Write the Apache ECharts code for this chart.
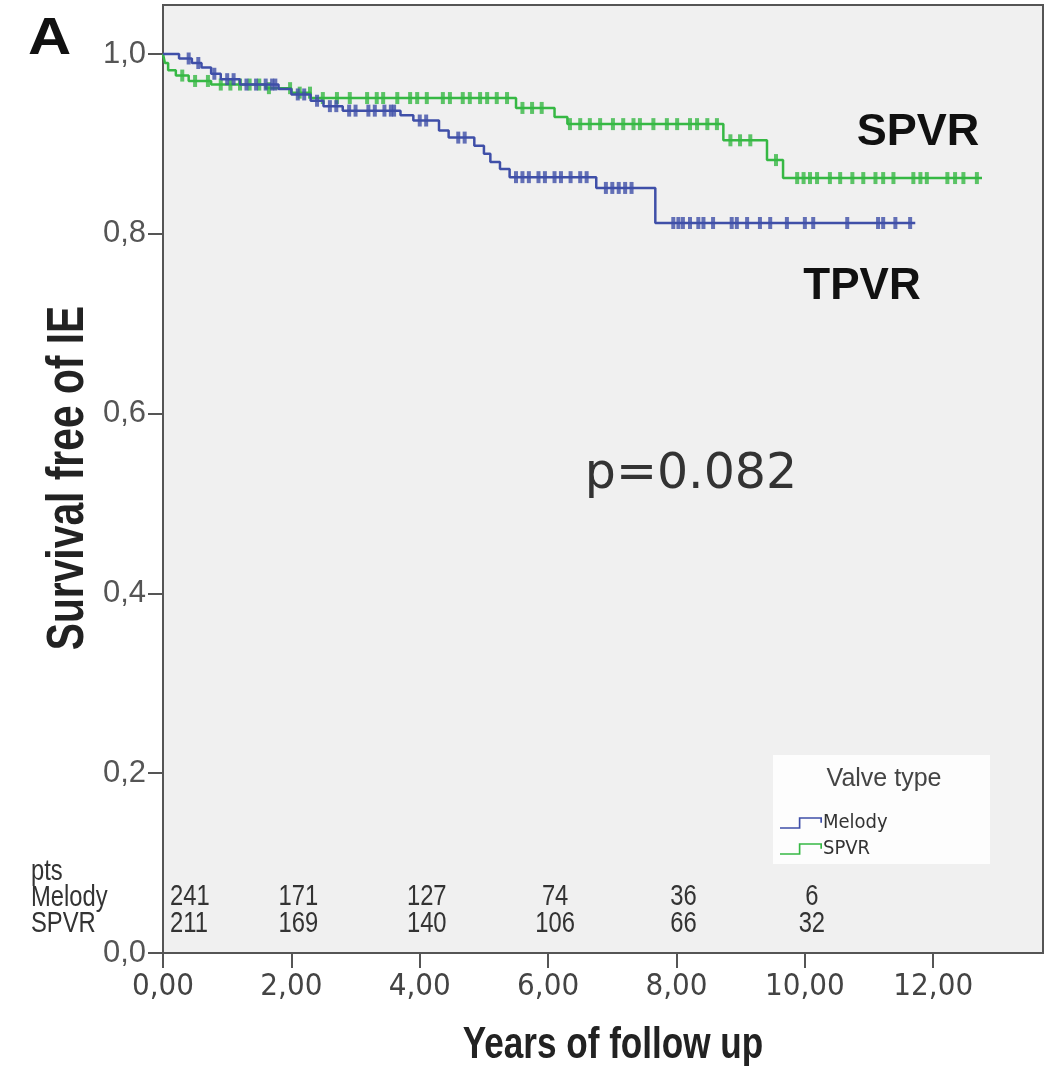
<!DOCTYPE html>
<html>
<head>
<meta charset="utf-8">
<script src="https://cdn.jsdelivr.net/npm/echarts@6/dist/echarts.min.js"></script>
<style>
html,body{margin:0;padding:0;background:#fff;}
#chart{width:1053px;height:1066px;}
</style>
</head>
<body>
<div id="chart"></div>
<script>
// ---- data ----
const melodyTimes = [0, 0.25, 0.45, 0.6, 0.75, 0.9, 1.2, 1.8, 2.0, 2.3, 2.5, 2.8, 3.7, 3.9, 4.3, 4.45, 4.85, 5.0, 5.1, 5.25, 5.4, 6.75, 7.67, 11.72];
const melodySurv  = [1.0, 0.995, 0.99, 0.985, 0.978, 0.972, 0.966, 0.961, 0.955, 0.948, 0.942, 0.937, 0.932, 0.926, 0.915, 0.907, 0.898, 0.889, 0.88, 0.872, 0.863, 0.851, 0.812, 0.812];
const spvrTimes = [0, 0.03, 0.08, 0.2, 0.4, 0.75, 1.6, 2.0, 2.3, 5.5, 6.1, 6.3, 8.73, 9.41, 9.66, 12.76];
const spvrSurv  = [1.0, 0.99, 0.982, 0.976, 0.97, 0.966, 0.962, 0.957, 0.951, 0.94, 0.93, 0.922, 0.904, 0.882, 0.862, 0.862];
const melodyCensor = [0.4, 0.55, 0.8, 1.0, 1.1, 1.3, 1.45, 1.6, 1.7, 1.75, 2.1, 2.2, 2.4, 2.6, 2.7, 2.9, 3.0, 3.2, 3.3, 3.45, 3.55, 3.6, 4.0, 4.1, 4.6, 4.7, 5.5, 5.6, 5.7, 5.85, 5.95, 6.1, 6.2, 6.35, 6.5, 6.6, 6.9, 7.0, 7.1, 7.2, 7.3, 7.95, 8.03, 8.1, 8.21, 8.34, 8.42, 8.57, 8.86, 8.94, 9.1, 9.3, 9.46, 9.72, 10.0, 10.13, 10.66, 11.14, 11.22, 11.41, 11.64];
const spvrCensor = [0.3, 0.5, 0.7, 0.9, 1.05, 1.2, 1.35, 1.5, 1.65, 1.98, 2.13, 2.29, 2.49, 2.71, 2.91, 3.18, 3.33, 3.43, 3.65, 3.85, 3.96, 4.11, 4.36, 4.47, 4.67, 4.78, 4.94, 5.05, 5.2, 5.36, 5.6, 5.75, 5.9, 6.34, 6.5, 6.65, 6.81, 7.01, 7.17, 7.33, 7.43, 7.64, 7.85, 8.01, 8.21, 8.32, 8.48, 8.63, 8.84, 8.99, 9.15, 9.55, 9.88, 9.98, 10.08, 10.19, 10.39, 10.55, 10.74, 10.91, 11.1, 11.22, 11.38, 11.69, 11.8, 11.9, 12.22, 12.34, 12.47, 12.68];
const riskTimes  = [0, 2, 4, 6, 8, 10];
const melodyRisk = [241, 171, 127, 74, 36, 6];
const spvrRisk   = [211, 169, 140, 106, 66, 32];
const xTicks = [0, 2, 4, 6, 8, 10, 12];
const yTicks = [0, 0.2, 0.4, 0.6, 0.8, 1.0];
const seriesNames = ['Melody', 'SPVR'];

// ---- layout / style ----
const X_MAX = 13.71, Y_MAX = 1.0545;
const ROW_MELODY_Y = 0.0623, ROW_SPVR_Y = 0.0323;
const BLUE = '#3f4fa8', GREEN = '#36b844';
const COND = "'DejaVu Sans Condensed','DejaVu Sans',sans-serif";
const SANS = "'Liberation Sans',Arial,sans-serif";
const NARROW_SCALE = 0.82;

function survAt(times, surv, t) {
  let v = surv[0];
  for (let i = 0; i < times.length; i++) { if (times[i] <= t) v = surv[i]; }
  return v;
}
const lineData = (times, surv) => times.map((t, i) => [t, surv[i]]);
const censorData = (c, times, surv) => c.map(t => [t, survAt(times, surv, t)]);

const chart = echarts.init(document.getElementById('chart'), null, { renderer: 'canvas' });
const iconPath = 'path://M0,10 L17,10 L17,1 L38,1 L38,6 L36.5,6 L36.5,2.5 L18.5,2.5 L18.5,11.5 L0,11.5 Z';

chart.setOption({
  animation: false,
  grid: { left: 163, right: 10, top: 5, bottom: 113, containLabel: false, outerBoundsMode: 'none',
          show: true, backgroundColor: '#f0f0f0', borderColor: '#555', borderWidth: 2 },
  xAxis: {
    type: 'value', min: 0, max: X_MAX,
    axisLine: { show: true, lineStyle: { color: '#555', width: 2 } },
    axisTick: { show: true, length: 15, customValues: xTicks, lineStyle: { color: '#555', width: 2 } },
    axisLabel: { customValues: xTicks, formatter: v => v.toFixed(2).replace('.', ','), fontFamily: COND, fontSize: 31, color: '#444', margin: 18 },
    splitLine: { show: false }
  },
  yAxis: {
    type: 'value', min: 0, max: Y_MAX,
    axisLine: { show: true, lineStyle: { color: '#555', width: 2 } },
    axisTick: { show: true, length: 15, customValues: yTicks, lineStyle: { color: '#555', width: 2 } },
    axisLabel: { customValues: yTicks, formatter: v => v.toFixed(1).replace('.', ','), fontFamily: SANS, fontSize: 31, color: '#555', margin: 17 },
    splitLine: { show: false }
  },
  legend: {
    data: seriesNames, orient: 'vertical', left: 780, top: 811, padding: 0, itemGap: 2,
    itemWidth: 42, itemHeight: 14, icon: iconPath, z: 6,
    textStyle: { fontFamily: COND, fontSize: 20, lineHeight: 24, color: '#333', padding: [0, 0, 0, -4] }
  },
  series: [
    { name: 'SPVR', type: 'line', step: 'end', showSymbol: false, symbol: 'none', data: lineData(spvrTimes, spvrSurv), color: GREEN, lineStyle: { color: GREEN, width: 2.5 }, z: 2 },
    { name: 'SPVR censored', type: 'scatter', symbol: 'rect', symbolSize: [4, 12], data: censorData(spvrCensor, spvrTimes, spvrSurv), itemStyle: { color: GREEN }, silent: true, z: 2 },
    { name: 'Melody', type: 'line', step: 'end', showSymbol: false, symbol: 'none', data: lineData(melodyTimes, melodySurv), color: BLUE, lineStyle: { color: BLUE, width: 2.5 }, z: 3 },
    { name: 'Melody censored', type: 'scatter', symbol: 'rect', symbolSize: [4, 12], data: censorData(melodyCensor, melodyTimes, melodySurv), itemStyle: { color: BLUE }, silent: true, z: 3 }
  ]
});

// ---- texts (narrow look via horizontal scaling), risk table placed through the axis scales ----
function narrowText(text, x, y, opts) {
  return {
    type: 'text', x: x, y: y, scaleX: NARROW_SCALE, scaleY: 1,
    style: Object.assign({ text: text, x: 0, y: 0, verticalAlign: 'middle', fontFamily: SANS, fontSize: 29, fill: '#333' }, opts || {})
  };
}
const graphics = [
  { type: 'rect', x: 773, y: 755, shape: { width: 217, height: 109 }, style: { fill: '#fdfdfd' }, z: 3 },
  { type: 'text', x: 884, y: 779, z: 4, style: { text: 'Valve type', x: 0, y: 0, align: 'center', verticalAlign: 'middle', fontFamily: SANS, fontSize: 25, fill: '#444' } },
  { type: 'text', x: 28, y: 40, scaleX: 1.15, style: { text: 'A', x: 0, y: 0, verticalAlign: 'middle', fontFamily: SANS, fontWeight: 'bold', fontSize: 52, fill: '#111' } },
  { type: 'text', x: 918, y: 133, style: { text: 'SPVR', x: 0, y: 0, align: 'center', verticalAlign: 'middle', fontFamily: SANS, fontWeight: 'bold', fontSize: 45, fill: '#111' } },
  { type: 'text', x: 862, y: 287, style: { text: 'TPVR', x: 0, y: 0, align: 'center', verticalAlign: 'middle', fontFamily: SANS, fontWeight: 'bold', fontSize: 44, fill: '#111' } },
  { type: 'text', x: 691, y: 475, style: { text: 'p=0.082', x: 0, y: 0, align: 'center', verticalAlign: 'middle', fontFamily: "'DejaVu Sans',sans-serif", fontSize: 49, fill: '#333' } },
  // axis titles
  { type: 'text', x: 613, y: 1046, scaleX: 0.78, style: { text: 'Years of follow up', x: 0, y: 0, align: 'center', verticalAlign: 'middle', fontFamily: SANS, fontWeight: 'bold', fontSize: 45, fill: '#222' } },
  { type: 'text', x: 69, y: 478, rotation: Math.PI / 2, scaleX: 0.8, style: { text: 'Survival free of IE', x: 0, y: 0, align: 'center', verticalAlign: 'middle', fontFamily: SANS, fontWeight: 'bold', fontSize: 51, fill: '#222' } },
  // risk table row labels
  narrowText('pts', 31, 872),
  narrowText(seriesNames[0], 31, 898),
  narrowText(seriesNames[1], 31, 924)
];
function riskTexts(vals, rowY) {
  return vals.map((v, i) => {
    const p = chart.convertToPixel({ gridIndex: 0 }, [riskTimes[i], rowY]);
    return i === 0
      ? narrowText(String(v), p[0] + 7, p[1], { align: 'left' })
      : narrowText(String(v), p[0] + 7, p[1], { align: 'center' });
  });
}
chart.setOption({ graphic: graphics.concat(riskTexts(melodyRisk, ROW_MELODY_Y), riskTexts(spvrRisk, ROW_SPVR_Y)) });
</script>
</body>
</html>
